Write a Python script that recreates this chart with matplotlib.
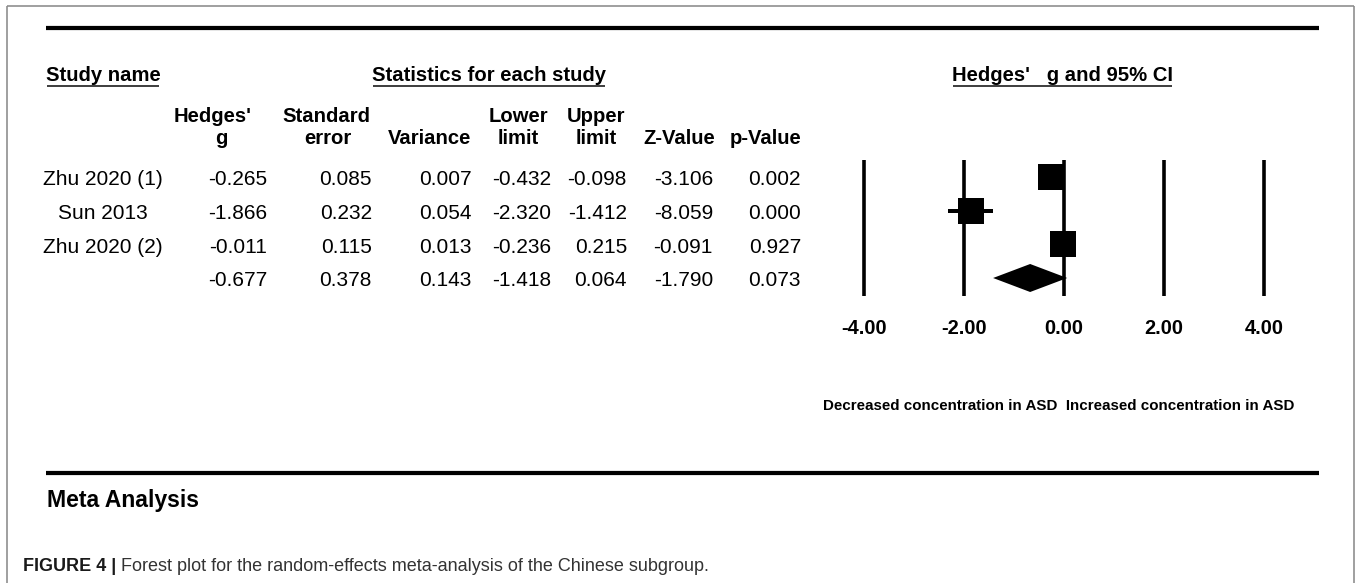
import matplotlib
matplotlib.use("Agg")
import matplotlib.pyplot as plt
from matplotlib.patches import Polygon

# ---- data -------------------------------------------------------------
studies = ["Zhu 2020 (1)", "Sun 2013", "Zhu 2020 (2)", ""]
hedges_g = [-0.265, -1.866, -0.011, -0.677]
std_err = [0.085, 0.232, 0.115, 0.378]
variance = [0.007, 0.054, 0.013, 0.143]
lower_limit = [-0.432, -2.320, -0.236, -1.418]
upper_limit = [-0.098, -1.412, 0.215, 0.064]
z_value = [-3.106, -8.059, -0.091, -1.790]
p_value = [0.002, 0.000, 0.927, 0.073]
axis_ticks = [-4.0, -2.0, 0.0, 2.0, 4.0]

# ---- figure -----------------------------------------------------------
W, H, DPI = 1357, 583, 100
plt.rcParams["font.family"] = ["Liberation Sans", "DejaVu Sans"]
fig = plt.figure(figsize=(W / DPI, H / DPI), dpi=DPI)
fig.patch.set_facecolor("white")

px = 72.0 / DPI  # points per pixel

# background canvas in pixel units (y grows downward)
bg = fig.add_axes([0, 0, 1, 1])
bg.set_xlim(0, W)
bg.set_ylim(H, 0)
bg.axis("off")

# outer frame
frame_kw = dict(color="#8a8a8a", lw=1.6 * px, solid_capstyle="butt")
bg.plot([7, 7], [6, H], **frame_kw)
bg.plot([7, 1354], [6, 6], **frame_kw)
bg.plot([1354, 1354], [6, H], **frame_kw)

# heavy rules
bg.plot([46, 1319], [28, 28], color="black", lw=4.2 * px, solid_capstyle="butt")
bg.plot([46, 1319], [473, 473], color="black", lw=4.2 * px, solid_capstyle="butt")

bold_hdr = dict(fontsize=14.6, fontweight="bold", color="black")
body = dict(fontsize=15.0, color="black")

# section titles (underlined afterwards)
titles = [
    bg.text(103, 81, "Study name", ha="center", va="baseline", **bold_hdr),
    bg.text(489, 81, "Statistics for each study", ha="center", va="baseline", **bold_hdr),
    bg.text(1062, 81, "Hedges'   g and 95% CI", ha="center", va="baseline", **bold_hdr),
]

# column headers: (center x line 1, center x line 2, line 1, line 2)
headers = [
    (213, 221, "Hedges'", "g"),
    (326, 328, "Standard", "error"),
    (430, 430, "", "Variance"),
    (518, 518, "Lower", "limit"),
    (596, 596, "Upper", "limit"),
    (679, 679, "", "Z-Value"),
    (766, 766, "", "p-Value"),
]
for x1, x2, l1, l2 in headers:
    if l1:
        bg.text(x1, 122, l1, ha="center", va="baseline", **bold_hdr)
    bg.text(x2, 144, l2, ha="center", va="baseline", **bold_hdr)

# table body
row_base = [185, 219, 253, 286]
columns = [hedges_g, std_err, variance, lower_limit, upper_limit, z_value, p_value]
right_edges = [267, 372, 472, 551, 627, 713, 801]
for i, yb in enumerate(row_base):
    if studies[i]:
        bg.text(103, yb, studies[i], ha="center", va="baseline", **body)
    for col, xr in zip(columns, right_edges):
        bg.text(xr, yb, f"{col[i]:.3f}", ha="right", va="baseline", **body)

# direction labels
bg.text(823, 410, "Decreased concentration in ASD  Increased concentration in ASD",
        ha="left", va="baseline", fontsize=10.9, fontweight="bold", color="black")

# footer
bg.text(47, 507, "Meta Analysis", ha="left", va="baseline",
        fontsize=16.6, fontweight="bold", color="black")
cap_b = bg.text(23, 571, "FIGURE 4 |", ha="left", va="baseline",
                fontsize=13.0, fontweight="bold", color="#1a1a1a")

# ---- forest panel -------------------------------------------------------
x0_px, x1_px = 814, 1314      # -5 .. 5
y0_px, y1_px = 150, 300
row_px = [177, 211, 244.5, 278]
step = (row_px[-1] - row_px[0]) / 3.0
ax = fig.add_axes([x0_px / W, (H - y1_px) / H, (x1_px - x0_px) / W, (y1_px - y0_px) / H])
ax.set_xlim(-5, 5)
ax.set_ylim((y1_px - row_px[0]) / step, (y0_px - row_px[0]) / step)
ax.patch.set_visible(False)
for s in ax.spines.values():
    s.set_visible(False)
ax.set_yticks([])

ax.vlines(axis_ticks, -0.505, 3.534, color="black", lw=3.6 * px, zorder=1)

for i in range(3):
    ax.hlines(i, lower_limit[i], upper_limit[i], color="black", lw=4.0 * px, zorder=2)
    ax.plot(hedges_g[i], i, marker="s", ms=27 * px, color="black", mec="black",
            mew=0, zorder=3)

half_h = 14.0 / step
diamond = Polygon([(lower_limit[3], 3), (hedges_g[3], 3 - half_h),
                   (upper_limit[3], 3), (hedges_g[3], 3 + half_h)],
                  closed=True, facecolor="black", edgecolor="black", lw=0, zorder=3)
ax.add_patch(diamond)

ax.set_xticks(axis_ticks)
ax.set_xticklabels([f"{t:.2f}" for t in axis_ticks], fontsize=14.4, fontweight="bold")
ax.tick_params(axis="x", length=0, pad=19 * px)

# ---- underlines and caption continuation ---------------------------------
fig.canvas.draw()
renderer = fig.canvas.get_renderer()
for t in titles:
    bb = t.get_window_extent(renderer)
    bg.plot([bb.x0 + 1, bb.x1 - 1], [86, 86], color="#222222", lw=1.7 * px,
            solid_capstyle="butt")

bb = cap_b.get_window_extent(renderer)
bg.text(bb.x1 + 5, 571, "Forest plot for the random-effects meta-analysis of the Chinese subgroup.",
        ha="left", va="baseline", fontsize=13.0, color="#333333")

fig.savefig("out.png", dpi=DPI, facecolor="white")
